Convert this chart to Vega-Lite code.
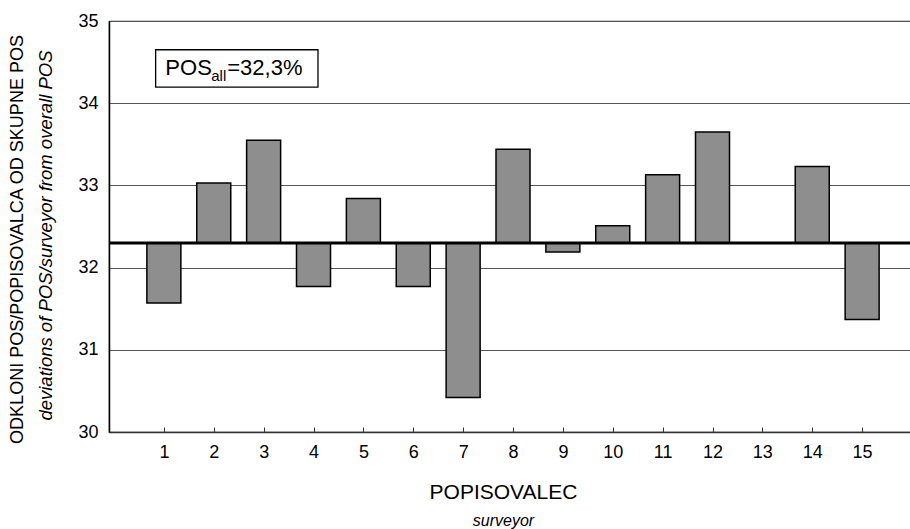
{
  "$schema": "https://vega.github.io/schema/vega-lite/v6.json",
  "width": 808,
  "height": 411,
  "autosize": "none",
  "padding": {"left": 109, "top": 21, "right": 0, "bottom": 97},
  "background": "white",
  "config": {
    "font": "Liberation Sans",
    "view": {"stroke": "#333", "strokeWidth": 1.2},
    "axis": {"labelColor": "black", "titleColor": "black", "labelFont": "Liberation Sans", "titleFont": "Liberation Sans"}
  },
  "datasets": {
    "bars": [
      {"surveyor": 1, "pos": 31.57},
      {"surveyor": 2, "pos": 33.03},
      {"surveyor": 3, "pos": 33.55},
      {"surveyor": 4, "pos": 31.77},
      {"surveyor": 5, "pos": 32.84},
      {"surveyor": 6, "pos": 31.77},
      {"surveyor": 7, "pos": 30.42},
      {"surveyor": 8, "pos": 33.44},
      {"surveyor": 9, "pos": 32.19},
      {"surveyor": 10, "pos": 32.51},
      {"surveyor": 11, "pos": 33.13},
      {"surveyor": 12, "pos": 33.65},
      {"surveyor": 13, "pos": 32.3},
      {"surveyor": 14, "pos": 33.23},
      {"surveyor": 15, "pos": 31.37}
    ],
    "one": [{"label": "POS_all", "overall": 32.3}]
  },
  "resolve": {"axis": {"x": "independent", "y": "independent"}},
  "layer": [
    {
      "data": {"name": "bars"},
      "mark": {"type": "bar", "size": 34, "fill": "#8e8e8e", "stroke": "black", "strokeWidth": 1.5},
      "encoding": {
        "x": {
          "field": "surveyor", "type": "quantitative",
          "scale": {"domain": [0, 16], "nice": false, "zero": false},
          "axis": {
            "orient": "bottom", "values": [1,2,3,4,5,6,7,8,9,10,11,12,13,14,15], "format": "d",
            "grid": false, "domainColor": "#333", "domainWidth": 1.5,
            "ticks": true, "tickSize": -5, "tickColor": "#333",
            "labelFontSize": 18, "labelPadding": 16, "labelFlush": false,
            "title": "POPISOVALEC", "titleFontSize": 21, "titleFontWeight": "normal",
            "titleX": 394, "titleY": 60, "titleBaseline": "middle", "titleAlign": "center", "titleAnchor": null
          }
        },
        "y": {
          "field": "pos", "type": "quantitative",
          "scale": {"domain": [30, 35], "nice": false, "zero": false},
          "axis": {
            "orient": "left", "values": [30, 31, 32, 33, 34, 35],
            "grid": true, "gridColor": "#555", "gridWidth": 1,
            "domainColor": "black", "domainWidth": 1.5,
            "ticks": false, "labelFontSize": 18, "labelPadding": 11,
            "title": "ODKLONI POS/POPISOVALCA OD SKUPNE POS", "titleFontSize": 18, "titleFontWeight": "normal",
            "titleAngle": -90, "titleX": -92, "titleY": 218, "titleBaseline": "middle", "titleAlign": "center"
          }
        },
        "y2": {"datum": 32.3}
      }
    },
    {
      "data": {"name": "one"},
      "mark": {"type": "rule", "color": "black", "strokeWidth": 3},
      "encoding": {
        "y": {
          "field": "overall", "type": "quantitative",
          "axis": {
            "orient": "left", "labels": false, "ticks": false, "domain": false, "grid": false,
            "title": "deviations of POS/surveyor from overall POS", "titleFontSize": 18.5, "titleFontWeight": "normal",
            "titleFontStyle": "italic", "titleAngle": -90, "titleX": -64, "titleY": 214,
            "titleBaseline": "middle", "titleAlign": "center"
          }
        }
      }
    },
    {
      "data": {"name": "one"},
      "mark": {"type": "rect", "fill": "white", "stroke": "black", "strokeWidth": 1.3},
      "encoding": {
        "x": {
          "datum": 0.835, "type": "quantitative",
          "axis": {
            "orient": "bottom", "labels": false, "ticks": false, "domain": false, "grid": false,
            "title": "surveyor", "titleFontSize": 16, "titleFontWeight": "normal", "titleFontStyle": "italic",
            "titleX": 394, "titleY": 88, "titleBaseline": "middle", "titleAlign": "center"
          }
        },
        "x2": {"datum": 4.09},
        "y": {"datum": 34.65, "type": "quantitative", "axis": null},
        "y2": {"datum": 34.195}
      }
    },
    {
      "data": {"name": "one"},
      "mark": {"type": "text", "text": "POS", "fontSize": 22, "fontWeight": "normal", "align": "left", "baseline": "alphabetic", "fill": "black"},
      "encoding": {
        "x": {"datum": 1.03, "type": "quantitative", "axis": null},
        "y": {"datum": 34.338, "type": "quantitative", "axis": null}
      }
    },
    {
      "data": {"name": "one"},
      "mark": {"type": "text", "text": "all", "fontSize": 15, "fontWeight": "normal", "align": "left", "baseline": "alphabetic", "fill": "black"},
      "encoding": {
        "x": {"datum": 1.95, "type": "quantitative", "axis": null},
        "y": {"datum": 34.265, "type": "quantitative", "axis": null}
      }
    },
    {
      "data": {"name": "one"},
      "mark": {"type": "text", "text": "=32,3%", "fontSize": 22, "fontWeight": "normal", "align": "left", "baseline": "alphabetic", "fill": "black"},
      "encoding": {
        "x": {"datum": 2.27, "type": "quantitative", "axis": null},
        "y": {"datum": 34.338, "type": "quantitative", "axis": null}
      }
    }
  ]
}
